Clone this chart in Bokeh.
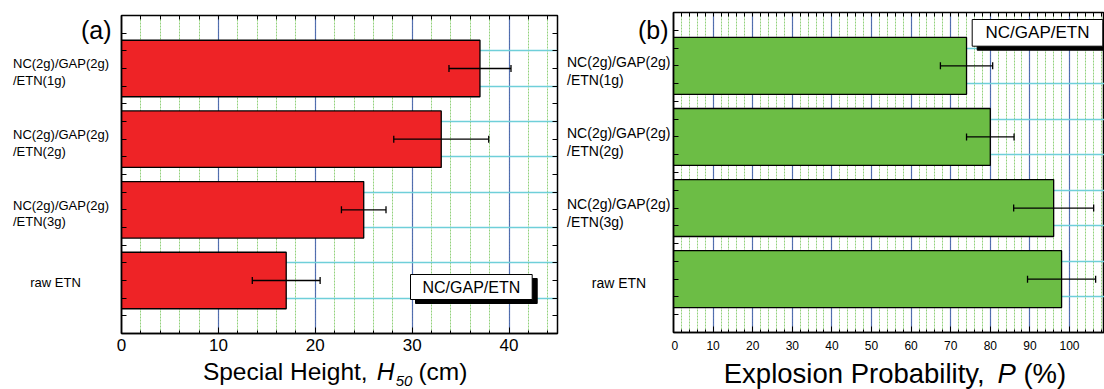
from bokeh.plotting import figure
from bokeh.models import (Range1d, FixedTicker, LinearAxis, Label, Whisker,
                          TeeHead, ColumnDataSource)
from bokeh.layouts import row, column
from bokeh.embed import file_html
from bokeh.resources import INLINE

# ---------------- data ----------------
categories = ["NC(2g)/GAP(2g)\n/ETN(1g)", "NC(2g)/GAP(2g)\n/ETN(2g)",
              "NC(2g)/GAP(2g)\n/ETN(3g)", "raw ETN"]
cat_pos = [4, 3, 2, 1]
h50 = [37, 33, 25, 17]
h50_err = [3.2, 4.9, 2.3, 3.5]
prob = [74, 80, 96, 98]
prob_err = [6.6, 6.0, 10.1, 8.6]
h50_ticks = [0, 10, 20, 30, 40]
h50_minor = list(range(0, 46, 2))
prob_ticks = [0, 10, 20, 30, 40, 50, 60, 70, 80, 90, 100]
prob_minor = list(range(0, 110, 2))
y_ticks = [0.5 + 0.25 * i for i in range(17)]
y_grid = [0.75 + 0.5 * i for i in range(8)]
legend_text = "NC/GAP/ETN"
xlabel_a = ["Special Height, ", "H", "50", "(cm)"]
xlabel_b = ["Explosion Probability, ", "P", "(%)"]

FONT = "Liberation Sans"
H = 389
Y0, Y1 = 0.25, 4.75
MID = 0.35   # middle of text above the baseline, in em


def blank(x0, x1, y0, y1, yr=None):
    f = figure(width=x1 - x0, height=y1 - y0, x_range=Range1d(x0, x1),
               y_range=yr if yr is not None else Range1d(y1, y0),
               output_backend="svg", toolbar_location=None, min_border=0,
               x_axis_location=None, y_axis_location=None)
    f.grid.visible = False
    f.outline_line_color = None
    f.background_fill_color = "white"
    f.border_fill_color = "white"
    return f


def txt(p, x, y, text, size, align="left", style="normal"):
    p.add_layout(Label(x=x, y=y, text=text, text_font=FONT,
                       text_font_size="%.1fpx" % size, text_align=align,
                       text_baseline="middle", text_font_style=style,
                       text_color="black"))


def panel(width, height, left, right, top, bottom, xmax, values, errs,
          color, ticks, minor, tick_font, standoff, mirror_right=True):
    p = figure(width=width, height=height, x_range=Range1d(0, xmax),
               y_range=Range1d(Y0, Y1), output_backend="svg",
               toolbar_location=None, min_border_left=left,
               min_border_right=right, min_border_top=top,
               min_border_bottom=bottom)
    p.outline_line_color = "black"
    p.outline_line_width = 1.5
    p.background_fill_color = "white"
    p.border_fill_color = "white"

    xt = FixedTicker(ticks=ticks, minor_ticks=minor)
    yt = FixedTicker(ticks=[], minor_ticks=y_ticks)
    xt_top = FixedTicker(ticks=[], minor_ticks=minor)

    xa = p.xaxis[0]
    xa.ticker = xt
    xa.major_tick_in = 6
    xa.major_tick_out = 0
    xa.minor_tick_in = 3
    xa.minor_tick_out = 0
    xa.axis_line_color = "black"
    xa.axis_line_width = 1.5
    xa.major_label_text_font = FONT
    xa.major_label_text_font_size = tick_font
    xa.major_label_text_color = "black"
    xa.major_label_standoff = standoff

    ya = p.yaxis[0]
    ya.ticker = yt
    ya.minor_tick_in = 5
    ya.minor_tick_out = 0
    ya.axis_line_color = "black"
    ya.axis_line_width = 1.5

    top_ax = LinearAxis(ticker=xt_top, minor_tick_in=4, minor_tick_out=0,
                        axis_line_color="black")
    p.add_layout(top_ax, "above")
    if mirror_right:
        r_ax = LinearAxis(ticker=yt, minor_tick_in=5, minor_tick_out=0,
                          axis_line_color="black")
        p.add_layout(r_ax, "right")

    p.xgrid.ticker = xt
    p.xgrid.grid_line_color = "#3f5bb0"
    p.xgrid.grid_line_alpha = 0.85
    p.xgrid.grid_line_width = 1.2
    p.xgrid.minor_grid_line_color = "#77c55a"
    p.xgrid.minor_grid_line_alpha = 0.8
    p.xgrid.minor_grid_line_dash = "2 1"
    p.xgrid.minor_grid_line_width = 1

    p.ygrid.ticker = FixedTicker(ticks=y_grid, minor_ticks=[])
    p.ygrid.grid_line_color = "#6fcfd9"
    p.ygrid.grid_line_width = 1.5

    src = ColumnDataSource(dict(y=cat_pos, v=values,
                                lo=[v - e for v, e in zip(values, errs)],
                                hi=[v + e for v, e in zip(values, errs)]))
    p.hbar(y="y", right="v", left=0, height=0.8, source=src,
           fill_color=color, line_color="black", line_width=1.3)
    w = Whisker(source=src, base="y", lower="lo", upper="hi",
                dimension="width", line_color="black", line_width=1.3,
                level="annotation",
                upper_head=TeeHead(size=7, line_color="black", line_width=1.3),
                lower_head=TeeHead(size=7, line_color="black", line_width=1.3))
    p.add_layout(w)
    return p


def legend_box(p, fx, fy, x0, x1, y0, y1, size):
    # shadow then box (layout decoration, pixel geometry)
    p.quad(left=fx(x0 + 5), right=fx(x1 + 5), top=fy(y0 + 4),
           bottom=fy(y1 + 4), fill_color="black", line_color="black")
    p.quad(left=fx(x0), right=fx(x1), top=fy(y0), bottom=fy(y1),
           fill_color="white", line_color="black", line_width=1)
    txt(p, fx((x0 + x1) / 2), fy((y0 + y1) / 2), legend_text, size,
        align="center")


# ================= panel (a) =================
A_X0, A_X1 = 115, 565          # canvas span of figure (a)
A_FL, A_FR, A_FT, A_FB = 121, 557, 15, 333   # frame edges (canvas px)
A_H = 357
A_XMAX = 45
pa = panel(A_X1 - A_X0, A_H, A_FL - A_X0, A_X1 - A_FR, A_FT, A_H - A_FB,
           A_XMAX, h50, h50_err, "#ee2326", h50_ticks, h50_minor, "17px", 5)
a_fw, a_fh = A_FR - A_FL, A_FB - A_FT


def ax_(px):
    return (px - A_FL) * A_XMAX / a_fw


def ay_(py):
    return Y1 - (py - A_FT) * (Y1 - Y0) / a_fh


legend_box(pa, ax_, ay_, 410, 531.7, 274, 299, 16)

# labels column for (a): y range matched to panel (a) data
a_ppu = a_fh / (Y1 - Y0)
la = blank(0, A_X0, 0, H,
           yr=Range1d(Y0 - (H - A_FB) / a_ppu, Y1 + A_FT / a_ppu))


def la_y(base_y, below_px, size):
    # data y of text middle for a baseline `below_px` pixels below base_y
    return base_y + (-below_px + MID * size) / a_ppu


for cat, yp in zip(categories, cat_pos):
    lines = cat.split("\n")
    if len(lines) > 1:
        txt(la, 12.5, la_y(yp, 0.0, 13), lines[0], 13)
        txt(la, 12.5, la_y(yp, 16.5, 13), lines[1], 13)
    else:
        txt(la, 55, la_y(yp, 7, 13), cat, 13, align="center")
txt(la, 111, la_y(Y1 + A_FT / a_ppu, 38, 25), "(a)", 25, align="right")

# axis title strip for (a) (y in canvas px, downward)
sa = blank(A_X0, A_X1, A_H, H)
TA = 24.5
txt(sa, 199, 379.5 - MID * TA, xlabel_a[0], TA)
txt(sa, 378.5, 379.5 - MID * TA, xlabel_a[1], TA, style="italic")
txt(sa, 398, 385.8 - MID * 15, xlabel_a[2], 15, style="italic")
txt(sa, 421.5, 379.5 - MID * TA, xlabel_a[3], TA)

# ================= panel (b) =================
B_X0, B_X1 = 671, 1104
B_FL, B_FR, B_FT, B_FB = 673, 1104, 12, 332
B_H = 355
B_FW = B_FR - B_FL
B_XMAX = B_FW / 3.96
pb = panel(B_X1 - B_X0, B_H, B_FL - B_X0, B_X1 - B_FR, B_FT, B_H - B_FB,
           B_XMAX, prob, prob_err, "#6cbd45", prob_ticks, prob_minor,
           "12px", 8, mirror_right=False)
b_fh = B_FB - B_FT


def bx_(px):
    return (px - B_FL) * B_XMAX / B_FW


def by_(py):
    return Y1 - (py - B_FT) * (Y1 - Y0) / b_fh


legend_box(pb, bx_, by_, 971.7, 1102.3, 19, 45.7, 17)

b_ppu = b_fh / (Y1 - Y0)
lb = blank(A_X1, B_X0, 0, H,
           yr=Range1d(Y0 - (H - B_FB) / b_ppu, Y1 + B_FT / b_ppu))


def lb_y(base_y, below_px, size):
    return base_y + (-below_px + MID * size) / b_ppu


for cat, yp in zip(categories, cat_pos):
    lines = cat.split("\n")
    if len(lines) > 1:
        txt(lb, 566.5, lb_y(yp, 1, 14), lines[0], 14)
        txt(lb, 566.5, lb_y(yp, 19, 14), lines[1], 14)
    else:
        txt(lb, 618.5, lb_y(yp, 8.3, 14), cat, 14, align="center")
txt(lb, 668, lb_y(Y1 + B_FT / b_ppu, 38, 25), "(b)", 25, align="right")

sb = blank(B_X0, B_X1, B_H, H)
TB = 27.5
txt(sb, 721.5, 382.6 - MID * TB, xlabel_b[0], TB)
txt(sb, 996.5, 382.6 - MID * TB, xlabel_b[1], TB, style="italic")
txt(sb, 1022.5, 382.6 - MID * TB, xlabel_b[2], TB)

layout = row(la, column(pa, sa), lb, column(pb, sb))
open("out.html", "w").write(file_html(layout, INLINE))
